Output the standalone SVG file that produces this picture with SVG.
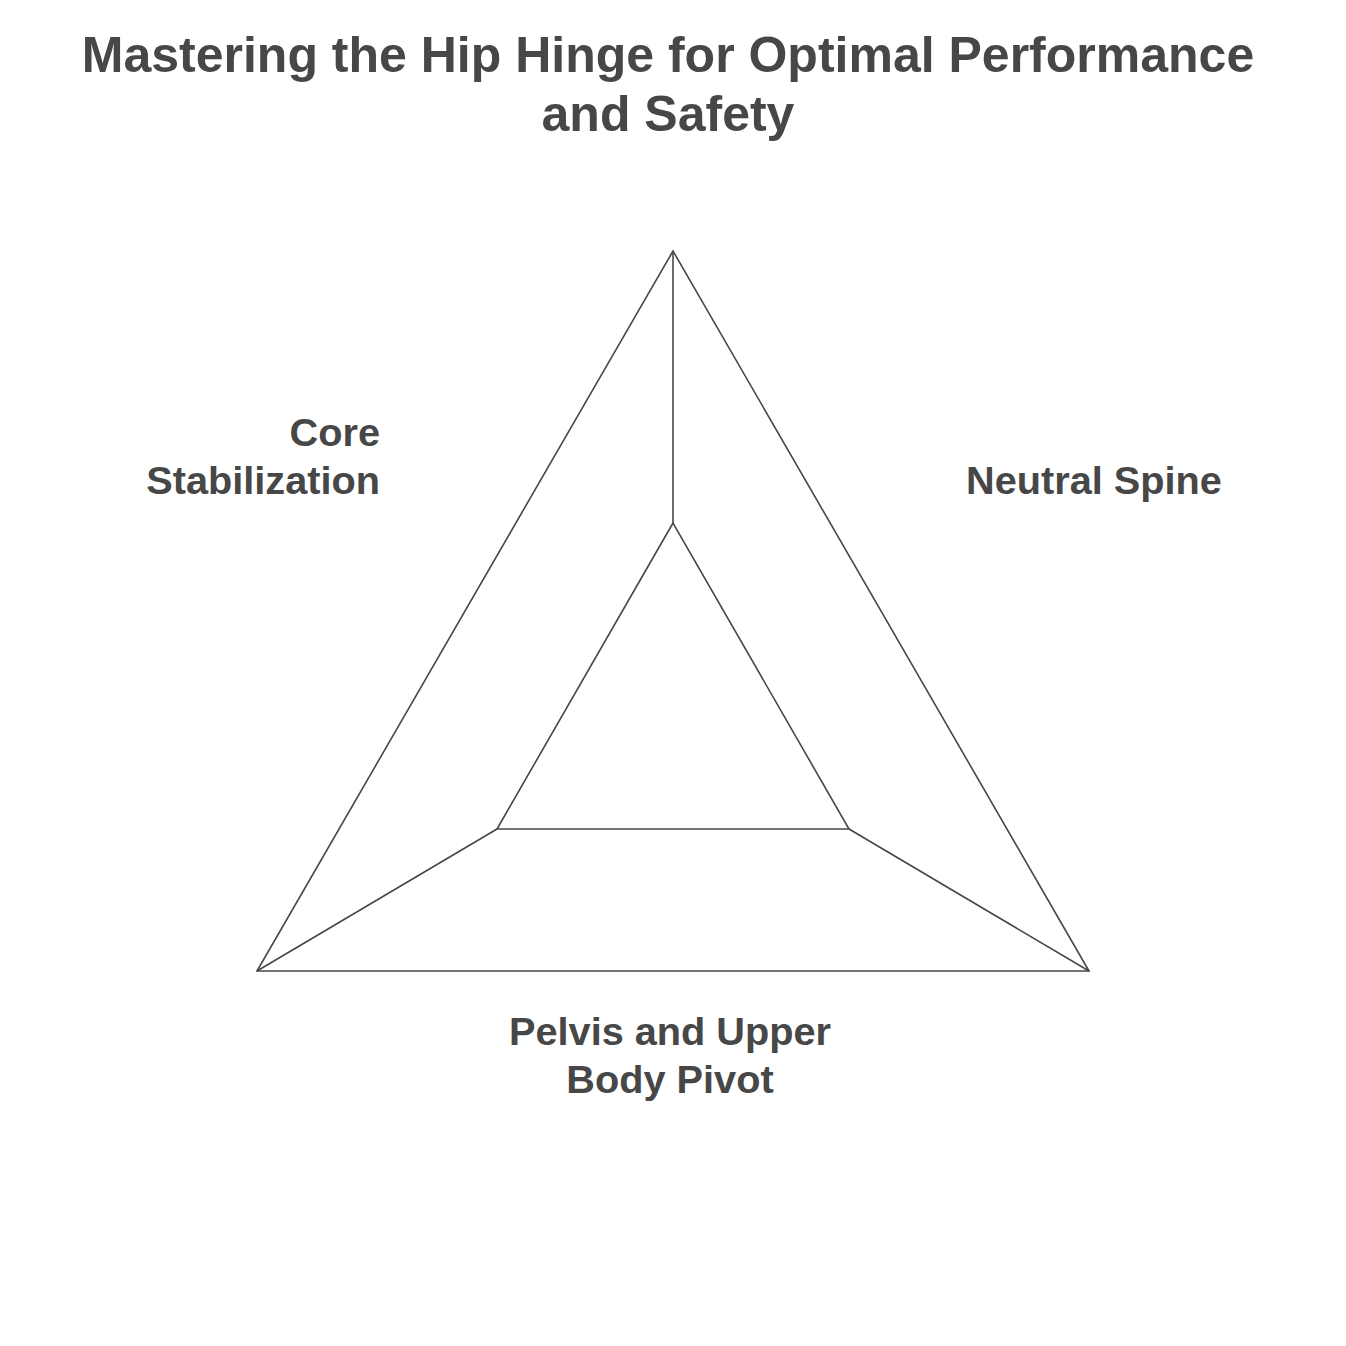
<svg xmlns="http://www.w3.org/2000/svg" width="1346" height="1346" viewBox="0 0 1346 1346">
<style>
.t{font-family:"Liberation Sans",Arial,sans-serif;font-weight:bold;fill:#474747}
.title{font-size:50px}
.lbl{font-size:39.7px}
.e{stroke:#474747;stroke-width:1.6;fill:none;stroke-linejoin:miter}
</style>
<rect width="1346" height="1346" fill="#ffffff"/>
<text class="t title" text-anchor="middle" x="668" y="72">Mastering the Hip Hinge for Optimal Performance</text>
<text class="t title" text-anchor="middle" x="668" y="131">and Safety</text>
<g id="connectors">
<polygon class="e" points="673,251 257,971 1089,971"/>
<polygon class="e" points="673,523 497,829 849,829"/>
<line class="e" x1="673" y1="251" x2="673" y2="523"/>
<line class="e" x1="257" y1="971" x2="497" y2="829"/>
<line class="e" x1="1089" y1="971" x2="849" y2="829"/>
</g>
<g id="node-core">
<text class="t lbl" text-anchor="end" x="380" y="446">Core</text>
<text class="t lbl" text-anchor="end" x="380" y="494">Stabilization</text>
</g>
<g id="node-spine">
<text class="t lbl" x="966" y="494">Neutral Spine</text>
</g>
<g id="node-pelvis">
<text class="t lbl" text-anchor="middle" x="670" y="1045">Pelvis and Upper</text>
<text class="t lbl" text-anchor="middle" x="670" y="1093">Body Pivot</text>
</g>
</svg>
